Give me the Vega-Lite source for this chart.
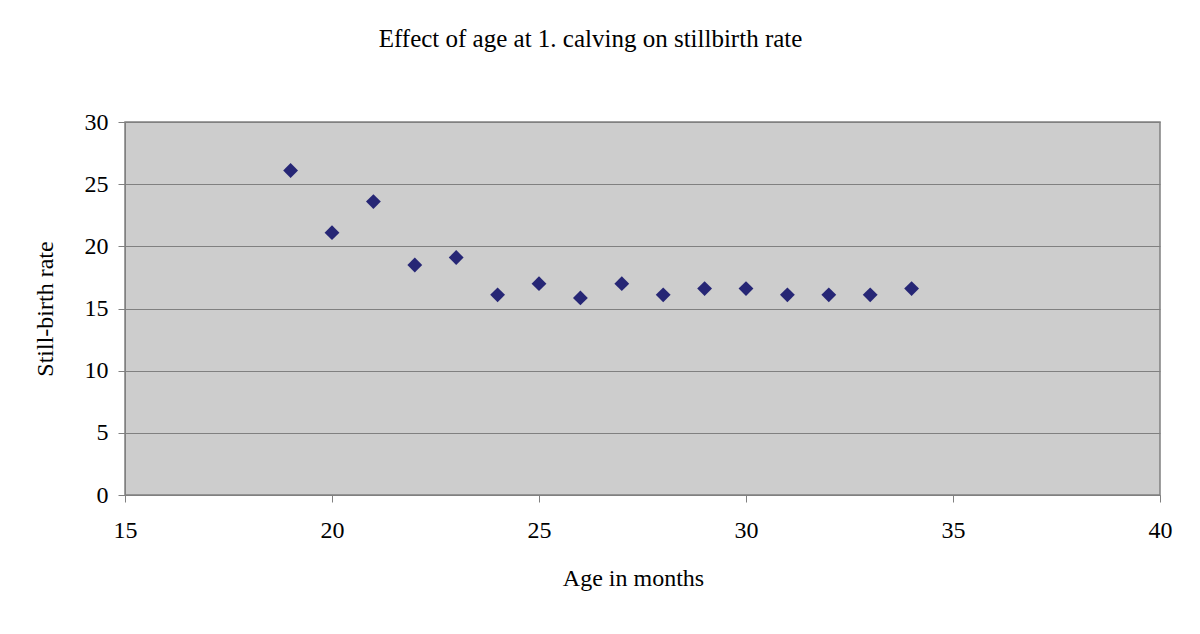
{
  "$schema": "https://vega.github.io/schema/vega-lite/v6.json",
  "width": 1035,
  "height": 373,
  "autosize": "none",
  "padding": {"left": 125, "top": 122, "right": 40, "bottom": 139},
  "background": "white",
  "title": {
    "text": "Effect of age at 1. calving on stillbirth rate",
    "font": "Liberation Serif",
    "fontSize": 25,
    "fontWeight": "normal",
    "color": "black",
    "anchor": "middle",
    "frame": "group",
    "dx": -52,
    "offset": 58
  },
  "data": {
    "values": [
      {"age": 19, "rate": 26.1},
      {"age": 20, "rate": 21.1},
      {"age": 21, "rate": 23.6},
      {"age": 22, "rate": 18.5},
      {"age": 23, "rate": 19.1},
      {"age": 24, "rate": 16.1},
      {"age": 25, "rate": 17.0},
      {"age": 26, "rate": 15.85},
      {"age": 27, "rate": 17.0},
      {"age": 28, "rate": 16.1},
      {"age": 29, "rate": 16.6},
      {"age": 30, "rate": 16.6},
      {"age": 31, "rate": 16.1},
      {"age": 32, "rate": 16.1},
      {"age": 33, "rate": 16.1},
      {"age": 34, "rate": 16.6}
    ]
  },
  "mark": {"type": "point", "shape": "diamond", "filled": true, "size": 220, "color": "#262675", "opacity": 1},
  "encoding": {
    "x": {
      "field": "age",
      "type": "quantitative",
      "scale": {"domain": [15, 40], "nice": false, "zero": false},
      "axis": {
        "title": "Age in months",
        "values": [15, 20, 25, 30, 35, 40],
        "grid": false,
        "tickSize": 7,
        "tickColor": "#808080",
        "domainColor": "#808080",
        "labelPadding": 16,
        "titlePadding": 24,
        "titleX": 508,
        "labelFont": "Liberation Serif",
        "labelFontSize": 24,
        "labelColor": "black",
        "titleFont": "Liberation Serif",
        "titleFontSize": 24,
        "titleFontWeight": "normal",
        "titleColor": "black",
        "labelFlush": false
      }
    },
    "y": {
      "field": "rate",
      "type": "quantitative",
      "scale": {"domain": [0, 30], "nice": false},
      "axis": {
        "title": "Still-birth rate",
        "values": [0, 5, 10, 15, 20, 25, 30],
        "grid": true,
        "gridColor": "#808080",
        "gridWidth": 1.2,
        "gridOpacity": 1,
        "tickSize": 7,
        "tickColor": "#808080",
        "domainColor": "#808080",
        "labelPadding": 10,
        "titlePadding": 27,
        "labelFont": "Liberation Serif",
        "labelFontSize": 24,
        "labelColor": "black",
        "titleFont": "Liberation Serif",
        "titleFontSize": 24,
        "titleFontWeight": "normal",
        "titleColor": "black",
        "labelFlush": false
      }
    }
  },
  "config": {
    "view": {"fill": "#cdcdcd", "stroke": "#808080", "strokeWidth": 1.5}
  }
}
